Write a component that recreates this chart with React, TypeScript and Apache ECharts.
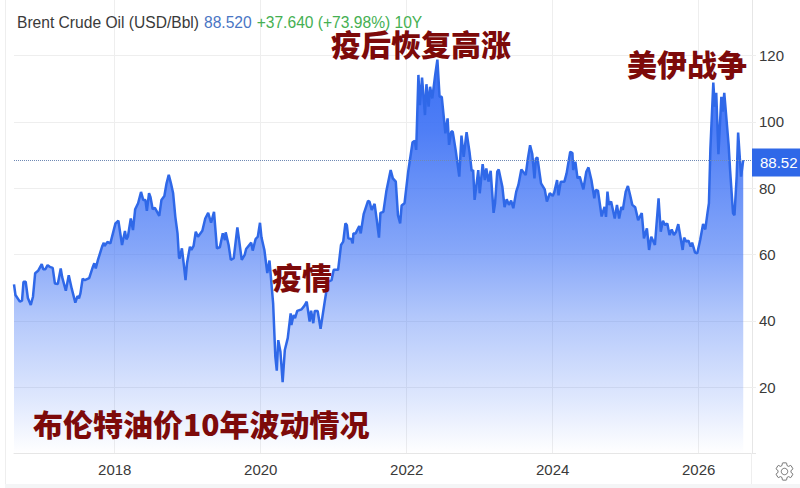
import React, { useEffect, useRef } from "react";
import * as echarts from "echarts";

const yearTicks = [2018, 2020, 2022, 2024, 2026];
const years = [
  2016.62, 2016.64, 2016.7, 2016.73, 2016.75, 2016.78, 2016.81, 2016.85, 2016.88, 2016.91, 2016.95, 2017.0, 2017.02, 2017.05, 2017.08, 2017.11, 2017.15, 2017.18, 2017.22, 2017.26,
  2017.28, 2017.33, 2017.37, 2017.41, 2017.46, 2017.49, 2017.51, 2017.53, 2017.56, 2017.59, 2017.65, 2017.7, 2017.72, 2017.74, 2017.77, 2017.83, 2017.85, 2017.86, 2017.9, 2017.94,
  2018.01, 2018.05, 2018.1, 2018.14, 2018.16, 2018.18, 2018.22, 2018.25, 2018.28, 2018.32, 2018.36, 2018.39, 2018.42, 2018.44, 2018.47, 2018.49, 2018.52, 2018.55, 2018.61, 2018.64,
  2018.68, 2018.71, 2018.74, 2018.77, 2018.8, 2018.83, 2018.86, 2018.88, 2018.89, 2018.92, 2018.95, 2018.97, 2018.99, 2019.03, 2019.05, 2019.08, 2019.11, 2019.14, 2019.2, 2019.24,
  2019.28, 2019.32, 2019.36, 2019.4, 2019.44, 2019.48, 2019.51, 2019.52, 2019.56, 2019.59, 2019.63, 2019.68, 2019.74, 2019.78, 2019.8, 2019.87, 2019.89, 2019.93, 2019.96, 2019.99,
  2020.01, 2020.05, 2020.09, 2020.12, 2020.17, 2020.2, 2020.22, 2020.24, 2020.27, 2020.3, 2020.33, 2020.37, 2020.41, 2020.42, 2020.45, 2020.47, 2020.5, 2020.56, 2020.6, 2020.63,
  2020.67, 2020.69, 2020.72, 2020.74, 2020.78, 2020.82, 2020.88, 2020.92, 2020.97, 2021.0, 2021.06, 2021.1, 2021.13, 2021.16, 2021.18, 2021.2, 2021.24, 2021.26, 2021.27, 2021.3,
  2021.35, 2021.37, 2021.41, 2021.47, 2021.49, 2021.52, 2021.56, 2021.59, 2021.62, 2021.64, 2021.68, 2021.72, 2021.78, 2021.81, 2021.85, 2021.88, 2021.91, 2021.93, 2021.97, 2022.02,
  2022.08, 2022.11, 2022.13, 2022.16, 2022.18, 2022.21, 2022.25, 2022.27, 2022.3, 2022.32, 2022.35, 2022.39, 2022.42, 2022.45, 2022.48, 2022.53, 2022.56, 2022.58, 2022.61, 2022.63,
  2022.67, 2022.72, 2022.75, 2022.78, 2022.82, 2022.86, 2022.89, 2022.91, 2022.93, 2022.98, 2023.0, 2023.04, 2023.07, 2023.09, 2023.12, 2023.15, 2023.19, 2023.21, 2023.24, 2023.26,
  2023.31, 2023.34, 2023.37, 2023.4, 2023.43, 2023.46, 2023.5, 2023.53, 2023.57, 2023.63, 2023.66, 2023.69, 2023.72, 2023.75, 2023.77, 2023.79, 2023.84, 2023.89, 2023.92, 2023.96,
  2024.0, 2024.02, 2024.06, 2024.08, 2024.11, 2024.16, 2024.19, 2024.24, 2024.27, 2024.28, 2024.31, 2024.34, 2024.37, 2024.42, 2024.46, 2024.49, 2024.53, 2024.57, 2024.59, 2024.62,
  2024.67, 2024.71, 2024.73, 2024.75, 2024.77, 2024.8, 2024.83, 2024.85, 2024.88, 2024.91, 2024.94, 2024.96, 2025.0, 2025.03, 2025.06, 2025.09, 2025.13, 2025.17, 2025.22, 2025.25,
  2025.29, 2025.32, 2025.35, 2025.4, 2025.45, 2025.48, 2025.51, 2025.54, 2025.57, 2025.6, 2025.63, 2025.66, 2025.69, 2025.72, 2025.78, 2025.8, 2025.83, 2025.86, 2025.89, 2025.91,
  2025.95, 2025.98, 2026.02, 2026.06, 2026.09, 2026.12, 2026.14, 2026.16, 2026.2, 2026.22, 2026.24, 2026.27, 2026.31, 2026.33, 2026.35, 2026.41, 2026.43, 2026.47, 2026.49, 2026.52,
  2026.54, 2026.58, 2026.61,
];
const prices = [
  51.0, 47.8, 45.8, 46.1, 51.8, 51.8, 46.9, 44.8, 47.3, 54.4, 55.1, 57.1, 55.6, 55.6, 56.8, 56.3, 56.0, 51.3, 51.1, 55.8,
  53.2, 49.1, 53.8, 49.8, 45.5, 47.5, 46.8, 48.3, 52.7, 52.3, 52.9, 56.3, 57.4, 55.8, 58.4, 62.6, 63.6, 62.6, 63.8, 63.4,
  69.4, 70.2, 62.9, 67.1, 64.6, 65.4, 70.9, 67.4, 73.7, 75.5, 78.9, 76.5, 76.5, 73.2, 78.5, 77.3, 73.7, 74.1, 71.7, 76.5,
  77.7, 81.5, 84.1, 81.5, 78.5, 71.4, 66.4, 59.2, 58.8, 61.9, 56.3, 52.3, 57.4, 62.4, 61.4, 62.6, 66.9, 65.4, 67.2, 70.9,
  72.6, 69.6, 72.9, 61.9, 62.2, 66.4, 64.4, 66.7, 62.9, 58.4, 58.9, 68.2, 58.4, 59.9, 61.7, 63.6, 61.2, 64.7, 65.4, 69.6,
  65.2, 61.4, 54.4, 58.2, 45.3, 29.2, 25.0, 34.2, 30.7, 21.5, 31.2, 34.8, 42.3, 38.8, 41.8, 40.8, 43.0, 43.5, 44.6, 45.8,
  39.8, 43.1, 39.3, 43.0, 43.0, 37.6, 46.3, 51.8, 52.3, 55.4, 55.4, 62.9, 63.9, 69.4, 68.9, 64.9, 64.7, 63.4, 66.4, 66.4,
  68.6, 66.4, 72.2, 76.2, 76.0, 73.5, 75.3, 70.4, 65.1, 72.6, 72.9, 79.0, 85.5, 83.0, 82.0, 71.9, 69.4, 74.8, 75.5, 85.0,
  93.9, 94.3, 91.6, 114.2, 105.1, 113.4, 102.1, 111.4, 104.6, 110.6, 107.1, 114.2, 118.8, 107.6, 107.6, 96.6, 101.1, 93.1, 97.1, 97.1,
  91.6, 83.5, 95.9, 89.5, 96.9, 91.0, 85.2, 85.5, 76.5, 85.5, 78.5, 87.3, 82.5, 86.0, 82.0, 85.3, 72.6, 75.5, 85.0, 85.7,
  80.5, 74.3, 76.7, 75.0, 76.3, 74.0, 79.0, 81.0, 85.7, 84.0, 89.0, 93.0, 90.3, 83.0, 89.0, 89.3, 81.5, 79.7, 76.0, 78.5,
  77.7, 78.7, 82.5, 77.9, 82.0, 82.0, 84.5, 91.0, 90.6, 85.5, 88.0, 83.0, 83.5, 79.7, 85.0, 86.3, 82.5, 77.0, 79.5, 79.3,
  71.5, 74.4, 71.4, 79.0, 75.0, 76.0, 72.9, 70.9, 75.0, 70.9, 74.4, 73.5, 79.0, 80.7, 78.0, 75.0, 74.3, 70.4, 72.5, 64.9,
  67.9, 61.4, 65.4, 62.9, 77.0, 66.9, 70.2, 68.9, 69.4, 65.9, 67.6, 65.9, 66.9, 69.2, 61.4, 65.1, 63.9, 64.2, 62.4, 63.6,
  60.6, 60.4, 64.4, 69.2, 67.6, 72.5, 75.5, 92.0, 111.9, 104.6, 108.8, 90.3, 107.6, 103.1, 108.8, 93.0, 85.5, 72.5, 71.9, 83.5,
  96.8, 83.5, 88.52,
];
const headName = "Brent Crude Oil (USD/Bbl)";
const headPrice = "88.520";
const headChange = "+37.640 (+73.98%) 10Y";
const lastLabel = "88.52";
const notes = ["疫后恢复高涨", "美伊战争", "疫情", "布伦特油价10年波动情况"];

const GEAR =
  "M19.14 12.94c.04-.3.06-.61.06-.94 0-.32-.02-.64-.07-.94l2.03-1.58c.18-.14.23-.41.12-.61l-1.92-3.32c-.12-.22-.37-.29-.59-.22l-2.39.96c-.5-.38-1.03-.7-1.62-.94l-.36-2.54c-.04-.24-.24-.41-.48-.41h-3.84c-.24 0-.43.17-.47.41l-.36 2.54c-.59.24-1.13.57-1.62.94l-2.39-.96c-.22-.08-.47 0-.59.22L2.74 8.87c-.12.21-.08.47.12.61l2.03 1.58c-.05.3-.09.63-.09.94s.02.64.07.94l-2.03 1.58c-.18.14-.23.41-.12.61l1.92 3.32c.12.22.37.29.59.22l2.39-.96c.5.38 1.03.7 1.62.94l.36 2.54c.05.24.24.41.48.41h3.84c.24 0 .44-.17.47-.41l.36-2.54c.59-.24 1.13-.56 1.62-.94l2.39.96c.22.08.47 0 .59-.22l1.92-3.32c.12-.22.07-.47-.12-.61l-2.01-1.58zM12 15.6c-1.98 0-3.6-1.62-3.6-3.6s1.62-3.6 3.6-3.6 3.6 1.62 3.6 3.6-1.62 3.6-3.6 3.6z";
echarts.graphic.registerShape("gear", echarts.graphic.extendPath(GEAR as any, {}) as any);

const LATIN = '"Liberation Sans", Arial, sans-serif';
const CJK = '"Noto Sans CJK SC", sans-serif';
const DARK_RED = "#7d0a0a";

function note(text: string, x: number, y: number) {
  return {
    type: "text",
    x,
    y,
    z: 20,
    style: { text, fontFamily: CJK, fontWeight: 900, fontSize: 30, fill: DARK_RED, verticalAlign: "middle", align: "left" },
  };
}

export default function App() {
  const ref = useRef<HTMLDivElement>(null);
  useEffect(() => {
    const chart = echarts.init(ref.current!, undefined, { renderer: "svg" });
    chart.setOption({
      animation: false,
      backgroundColor: "#ffffff",
      title: {
        left: 12,
        top: 8,
        text: `{a|${headName}} {b|${headPrice}} {c|${headChange}}`,
        textStyle: {
          rich: {
            a: { fontFamily: LATIN, fontSize: 15.6, fontWeight: "normal", color: "#3a3a3a" },
            b: { fontFamily: LATIN, fontSize: 15.6, fontWeight: "normal", color: "#4a76c4" },
            c: { fontFamily: LATIN, fontSize: 15.6, fontWeight: "normal", color: "#45b052" },
          },
        },
      },
      grid: { left: 14, right: 48, top: 0, bottom: 34.5 },
      xAxis: {
        type: "value",
        min: 2016.62,
        max: 2026.73,
        axisLine: { show: true, onZero: false, lineStyle: { color: "#e6e6e6", width: 1 } },
        axisTick: { show: false, customValues: yearTicks },
        axisLabel: {
          customValues: yearTicks,
          formatter: (v: number) => String(v),
          color: "#3a3a3a",
          fontFamily: LATIN,
          fontSize: 15,
          margin: 8,
        },
        splitLine: { show: true, lineStyle: { color: "#eeeeee", width: 1 } },
      },
      yAxis: {
        type: "value",
        position: "right",
        min: 0,
        max: 136.8,
        interval: 20,
        axisLine: { show: true, lineStyle: { color: "#e6e6e6", width: 1 } },
        axisTick: { show: true, length: 4, lineStyle: { color: "#eeeeee" } },
        axisLabel: {
          showMinLabel: false,
          showMaxLabel: false,
          color: "#3a3a3a",
          fontFamily: LATIN,
          fontSize: 15,
          margin: 7,
        },
        splitLine: { show: true, showMaxLine: false, lineStyle: { color: "#eeeeee", width: 1 } },
      },
      series: [
        {
          type: "line",
          data: years.map((y, i) => [y, prices[i]]),
          showSymbol: false,
          symbol: "none",
          smooth: false,
          lineStyle: { color: "#2f68e8", width: 2.5 },
          areaStyle: {
            origin: "start",
            opacity: 1,
            color: new echarts.graphic.LinearGradient(0, 0, 0, 1, [
              { offset: 0, color: "rgba(59,112,245,1)" },
              { offset: 0.18, color: "rgba(59,112,245,0.9)" },
              { offset: 0.48, color: "rgba(59,112,245,0.62)" },
              { offset: 0.66, color: "rgba(59,112,245,0.38)" },
              { offset: 0.865, color: "rgba(59,112,245,0.16)" },
              { offset: 1, color: "rgba(59,112,245,0)" },
            ]),
          },
          markLine: {
            silent: true,
            symbol: "none",
            animation: false,
            lineStyle: { type: "dotted", color: "#6f89b4", width: 1 },
            label: {
              position: "end",
              distance: 0,
              offset: [0, 2.5],
              formatter: () => lastLabel,
              color: "#ffffff",
              fontFamily: LATIN,
              fontSize: 15,
              backgroundColor: "#2f68e8",
              padding: [7, 3, 6, 8],
            },
            data: [{ yAxis: prices[prices.length - 1] }],
          },
        },
      ],
      graphic: [
        { type: "line", z: 1, shape: { x1: 5.5, y1: 0, x2: 5.5, y2: 484 }, style: { stroke: "#eeeeee", lineWidth: 1 } },
        { type: "line", z: 1, shape: { x1: 751.5, y1: 453, x2: 751.5, y2: 484 }, style: { stroke: "#eeeeee", lineWidth: 1 } },
        { type: "line", z: 1, shape: { x1: 752, y1: 453.5, x2: 756, y2: 453.5 }, style: { stroke: "#e6e6e6", lineWidth: 1 } },
        { type: "rect", z: 1, shape: { x: 5, y: 484, width: 795, height: 4 }, style: { fill: "#f4f5f6" } },
        { type: "gear", x: 773.7, y: 460.7, scaleX: 0.9, scaleY: 0.9, z: 2, style: { fill: "none", stroke: "#666666", lineWidth: 1 } },
        note(notes[0], 331, 43),
        note(notes[1], 627, 63),
        note(notes[2], 272, 275.5),
        note(notes[3], 33, 423),
      ],
    });
    return () => chart.dispose();
  }, []);
  return <div ref={ref} style={{ position: "fixed", left: 0, top: 0, width: 800, height: 488 }} />;
}
